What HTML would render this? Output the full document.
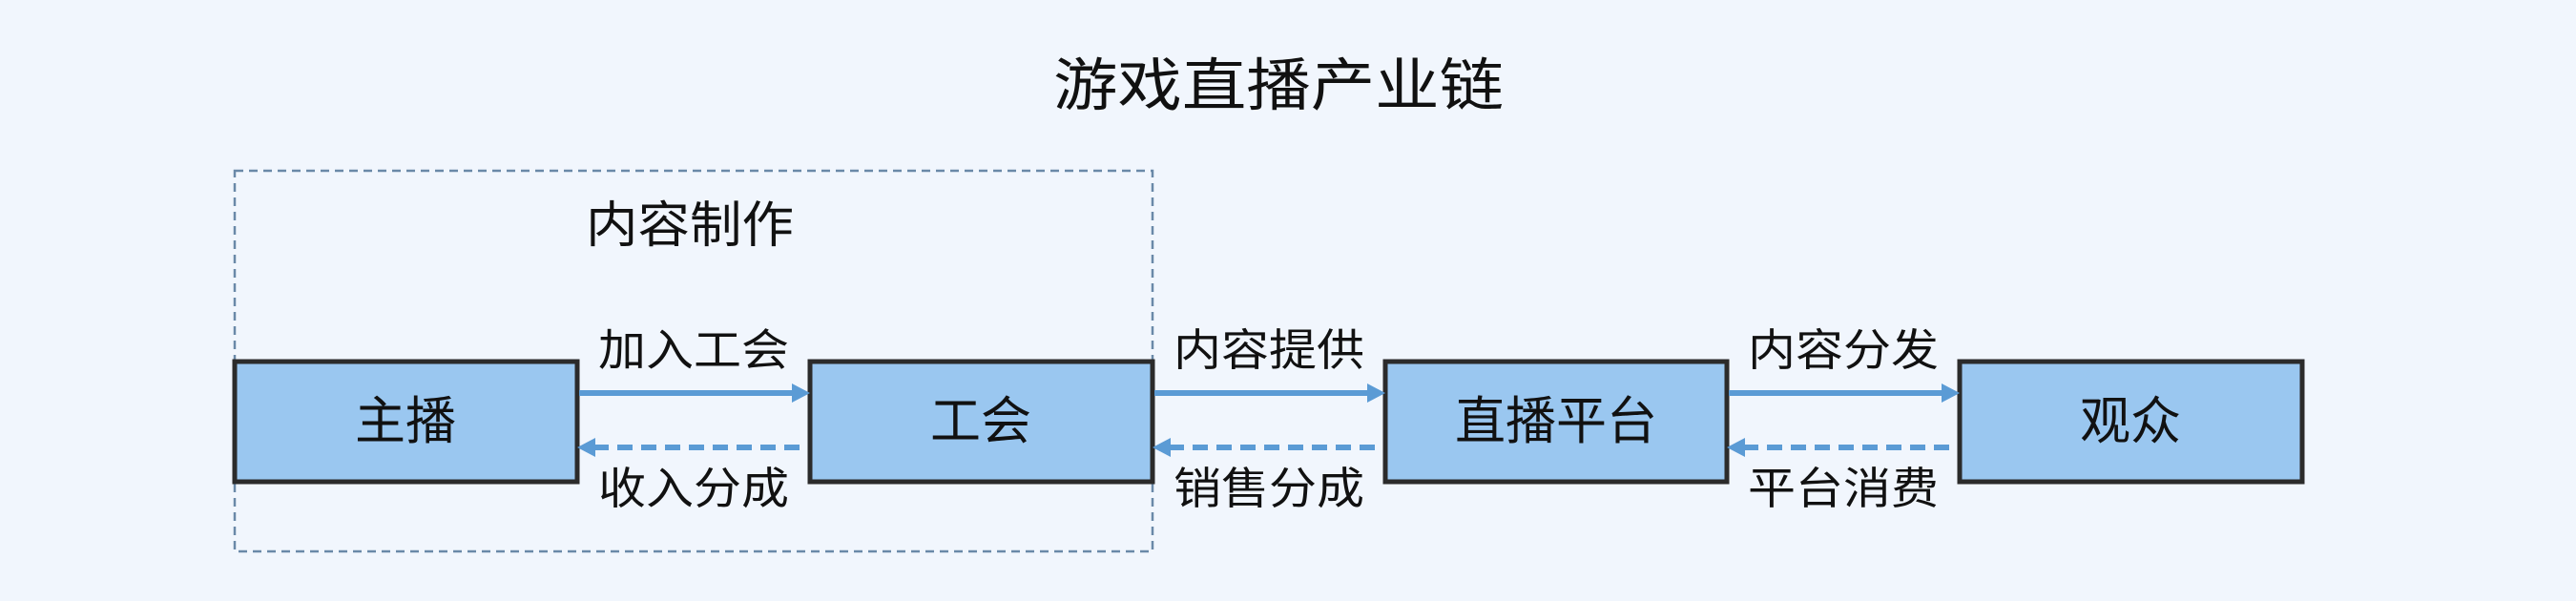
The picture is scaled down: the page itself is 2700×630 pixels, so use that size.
<!DOCTYPE html>
<html><head><meta charset="utf-8"><style>
html,body{margin:0;padding:0;background:#f1f6fd;}
svg{display:block}
text{font-family:"Liberation Sans","Noto Sans CJK SC",sans-serif;fill:#111;}
</style></head><body>
<svg width="2700" height="630" viewBox="0 0 2700 630" xmlns="http://www.w3.org/2000/svg">
<rect width="2700" height="630" fill="#f1f6fd"/>
<text x="1340" y="90" font-size="60" text-anchor="middle" dominant-baseline="central" textLength="472" lengthAdjust="spacingAndGlyphs">游戏直播产业链</text>
<rect x="246" y="179" width="962" height="399" fill="none" stroke="#6a89a8" stroke-width="2.5" stroke-dasharray="9,6"/>
<text x="723" y="237" font-size="52" text-anchor="middle" dominant-baseline="central" textLength="218" lengthAdjust="spacingAndGlyphs">内容制作</text>
<g fill="#9ac7f0" stroke="#2b2b2b" stroke-width="5">
<rect x="246" y="379" width="359" height="126"/>
<rect x="849" y="379" width="359" height="126"/>
<rect x="1452" y="379" width="358" height="126"/>
<rect x="2054" y="379" width="359" height="126"/>
</g>
<g font-size="54" text-anchor="middle" dominant-baseline="central">
<text x="425" y="442" textLength="106" lengthAdjust="spacingAndGlyphs">主播</text>
<text x="1028" y="442" textLength="106" lengthAdjust="spacingAndGlyphs">工会</text>
<text x="1631" y="442" textLength="212" lengthAdjust="spacingAndGlyphs">直播平台</text>
<text x="2233" y="442" textLength="106" lengthAdjust="spacingAndGlyphs">观众</text>
</g>
<g stroke="#5b9bd5" stroke-width="6" fill="none">
<line x1="607" y1="412" x2="832" y2="412"/>
<line x1="1210" y1="412" x2="1435" y2="412"/>
<line x1="1812" y1="412" x2="2037" y2="412"/>
<line x1="622" y1="469" x2="847" y2="469" stroke-dasharray="16,9"/>
<line x1="1225" y1="469" x2="1450" y2="469" stroke-dasharray="16,9"/>
<line x1="1827" y1="469" x2="2052" y2="469" stroke-dasharray="16,9"/>
</g>
<g fill="#5b9bd5">
<polygon points="830,402 849,412 830,422"/>
<polygon points="1433,402 1452,412 1433,422"/>
<polygon points="2035,402 2054,412 2035,422"/>
<polygon points="624,459 605,469 624,479"/>
<polygon points="1227,459 1208,469 1227,479"/>
<polygon points="1829,459 1810,469 1829,479"/>
</g>
<g font-size="46" text-anchor="middle" dominant-baseline="central">
<text x="727" y="367" textLength="200" lengthAdjust="spacingAndGlyphs">加入工会</text>
<text x="727" y="512" textLength="200" lengthAdjust="spacingAndGlyphs">收入分成</text>
<text x="1330" y="367" textLength="200" lengthAdjust="spacingAndGlyphs">内容提供</text>
<text x="1330" y="512" textLength="200" lengthAdjust="spacingAndGlyphs">销售分成</text>
<text x="1932" y="367" textLength="200" lengthAdjust="spacingAndGlyphs">内容分发</text>
<text x="1932" y="512" textLength="200" lengthAdjust="spacingAndGlyphs">平台消费</text>
</g>
</svg>
</body></html>
